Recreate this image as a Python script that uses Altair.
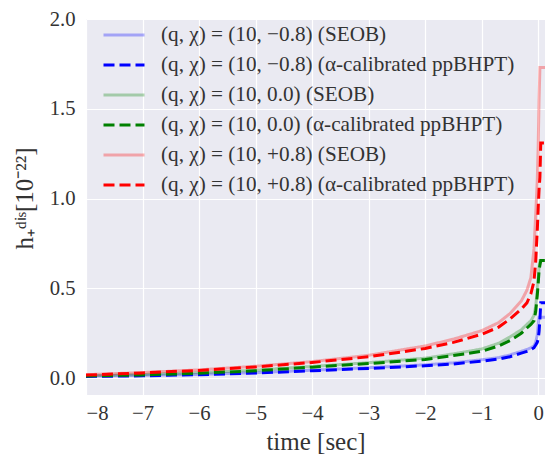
import altair as alt
import pandas as pd

# shared time grid (sec)
t = [-8, -7, -6, -5, -4, -3, -2, -1.5, -1, -0.7, -0.5, -0.3, -0.2, -0.13,
     -0.075, -0.045, -0.017, 0.0, 0.015, 0.03, 0.045, 0.06, 0.145]

labels = [
    "(q, χ) = (10, −0.8) (SEOB)",
    "(q, χ) = (10, −0.8) (α-calibrated ppBHPT)",
    "(q, χ) = (10, 0.0) (SEOB)",
    "(q, χ) = (10, 0.0) (α-calibrated ppBHPT)",
    "(q, χ) = (10, +0.8) (SEOB)",
    "(q, χ) = (10, +0.8) (α-calibrated ppBHPT)",
]

h_m08_seob = [0.012, 0.016, 0.022, 0.031, 0.045, 0.059, 0.075, 0.086, 0.103, 0.115, 0.13, 0.15,
              0.16, 0.17, 0.18, 0.20, 0.24, 0.30, 0.34, 0.34, 0.34, 0.34, 0.34]
h_m08_bhpt = [0.010, 0.014, 0.020, 0.029, 0.042, 0.055, 0.070, 0.080, 0.095, 0.107, 0.12, 0.14,
              0.15, 0.16, 0.17, 0.185, 0.20, 0.22, 0.26, 0.33, 0.42, 0.42, 0.42]
h_00_seob = [0.014, 0.021, 0.031, 0.045, 0.066, 0.087, 0.112, 0.136, 0.163, 0.195, 0.23, 0.27,
             0.30, 0.32, 0.35, 0.40, 0.49, 0.56, 0.62, 0.655, 0.655, 0.655, 0.655]
h_00_bhpt = [0.013, 0.019, 0.028, 0.042, 0.062, 0.082, 0.105, 0.127, 0.150, 0.18, 0.21, 0.25,
             0.28, 0.30, 0.32, 0.37, 0.46, 0.53, 0.60, 0.63, 0.655, 0.655, 0.655]
h_p08_seob = [0.020, 0.032, 0.047, 0.067, 0.093, 0.128, 0.180, 0.218, 0.265, 0.31, 0.36, 0.43,
              0.49, 0.56, 0.72, 0.91, 1.10, 1.30, 1.55, 1.73, 1.73, 1.73, 1.73]
h_p08_bhpt = [0.018, 0.030, 0.044, 0.063, 0.088, 0.120, 0.166, 0.200, 0.245, 0.285, 0.33, 0.385,
              0.42, 0.47, 0.54, 0.65, 0.82, 0.95, 1.05, 1.12, 1.31, 1.31, 1.31]

series_values = [h_m08_seob, h_m08_bhpt, h_00_seob, h_00_bhpt, h_p08_seob, h_p08_bhpt]

colors = ["rgba(0,0,255,0.3)", "#0000ff", "rgba(0,128,0,0.3)", "#008000",
          "rgba(255,0,0,0.3)", "#ff0000"]
dashes = [[1, 0], [11, 5], [1, 0], [11, 5], [1, 0], [11, 5]]

x_ticks = [-8, -7, -6, -5, -4, -3, -2, -1, 0]
y_ticks = [0.0, 0.5, 1.0, 1.5, 2.0]

rows = []
for k, (lab, vals) in enumerate(zip(labels, series_values)):
    for tt, v in zip(t, vals):
        rows.append({"t": tt, "h": v, "series": lab, "k": k})
df = pd.DataFrame(rows)

FONT = "Liberation Serif"
leg = alt.Legend(title=None, orient="none", legendX=26, legendY=4, padding=0,
                 symbolType="M-2,0H2", symbolSize=420, symbolStrokeWidth=3,
                 labelFont=FONT, labelFontSize=21.2, labelColor="#333333",
                 labelOffset=25, labelLimit=600, rowPadding=7,
                 fillColor="transparent", strokeColor="transparent")

chart = alt.Chart(df).mark_line(clip=True, strokeWidth=3).encode(
    x=alt.X("t:Q", scale=alt.Scale(domain=[-8, 0.12], nice=False, zero=False),
            axis=alt.Axis(values=x_ticks, format="d", title="time [sec]")),
    y=alt.Y("h:Q", scale=alt.Scale(domain=[-0.093, 2.0], nice=False, zero=False),
            axis=alt.Axis(values=y_ticks, format=".1f", title="h₊ᵈⁱˢ[10⁻²²]", titleY=179)),
    color=alt.Color("series:N", scale=alt.Scale(domain=labels, range=colors), legend=leg),
    strokeDash=alt.StrokeDash("series:N", scale=alt.Scale(domain=labels, range=dashes), legend=leg),
    order=alt.Order("t:Q"),
).properties(
    width=459, height=376,
    background="white",
    autosize=alt.AutoSizeParams(type="none"),
    padding={"left": 78, "top": 11, "right": 0, "bottom": 62},
).configure_view(
    fill="#EAEAF2", stroke=None
).configure_axis(
    grid=True, gridColor="white", gridWidth=1.2, domain=False, ticks=False,
    labelFont=FONT, labelFontSize=20.7, labelColor="#333333",
    titleFont=FONT, titleFontSize=25, titleColor="#333333", titleFontWeight="normal",
).configure_axisX(
    labelPadding=8, titlePadding=7
).configure_axisY(
    labelPadding=11, titlePadding=12
)

chart.save("out.html", embed_options={"renderer": "svg", "actions": False})
